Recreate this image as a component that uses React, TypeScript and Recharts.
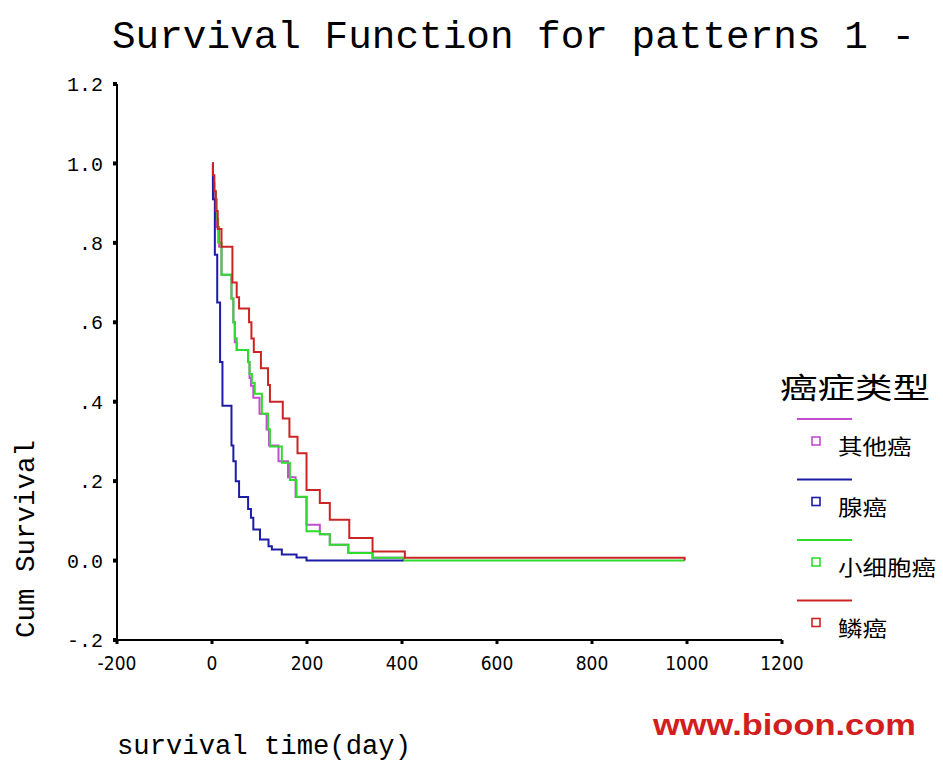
import React from "react";
import { LineChart, Line, XAxis, YAxis, Legend } from "recharts";

// ---- data ----
const seriesNames = ["其他癌", "腺癌", "小细胞癌", "鳞癌"];
const seriesColors = ["#c44cd0", "#1c1ca6", "#2edc2e", "#cc2424"];

const otherTimes = [0, 2, 5, 10, 15, 20, 41, 45, 48, 52, 76, 79, 82, 87, 100, 115, 120, 140, 160, 176, 199, 227, 248, 287, 338, 403];
const otherSurv = [1.0, 0.95, 0.91, 0.84, 0.79, 0.72, 0.66, 0.6, 0.55, 0.53, 0.5, 0.46, 0.44, 0.41, 0.37, 0.33, 0.29, 0.25, 0.21, 0.16, 0.09, 0.066, 0.04, 0.02, 0.007, 0.0];

const adenoTimes = [0, 2, 6, 11, 17, 22, 41, 45, 50, 57, 76, 82, 87, 101, 119, 126, 147, 178, 199, 403];
const adenoSurv = [1.0, 0.91, 0.77, 0.65, 0.5, 0.39, 0.29, 0.25, 0.2, 0.16, 0.13, 0.108, 0.078, 0.053, 0.036, 0.028, 0.015, 0.0075, 0.0, 0.0];

const smallTimes = [0, 2, 8, 13, 20, 41, 45, 48, 52, 76, 79, 84, 90, 105, 118, 122, 147, 164, 178, 199, 227, 248, 287, 338, 403, 995];
const smallSurv = [1.0, 0.93, 0.86, 0.8, 0.72, 0.66, 0.6, 0.56, 0.53, 0.5, 0.47, 0.447, 0.42, 0.37, 0.33, 0.287, 0.246, 0.203, 0.161, 0.074, 0.066, 0.04, 0.019, 0.007, 0.0, 0.0];

const squamTimes = [0, 2, 5, 8, 12, 20, 43, 52, 57, 78, 83, 88, 103, 118, 122, 149, 163, 180, 199, 227, 248, 289, 338, 406, 995];
const squamSurv = [1.0, 0.97, 0.93, 0.88, 0.835, 0.79, 0.7, 0.663, 0.635, 0.6, 0.559, 0.525, 0.484, 0.442, 0.4, 0.358, 0.312, 0.27, 0.178, 0.145, 0.103, 0.057, 0.023, 0.007, 0.0];

const xTicks = [-200, 0, 200, 400, 600, 800, 1000, 1200];
const yTicks = [-0.2, 0, 0.2, 0.4, 0.6, 0.8, 1.0, 1.2];
const yTickLabels = ["-.2", "0.0", ".2", ".4", ".6", ".8", "1.0", "1.2"];

const titleText = "Survival Function for patterns 1 -";
const xLabelText = "survival time(day)";
const yLabelText = "Cum Survival";
const legendTitle = "癌症类型";
const watermark = "www.bioon.com";

const build = (ts: number[], vs: number[]) => ts.map((t, i) => ({ t, s: vs[i] }));
const allSeries = [
  build(otherTimes, otherSurv),
  build(adenoTimes, adenoSurv),
  build(smallTimes, smallSurv),
  build(squamTimes, squamSurv),
];
const drawOrder = [0, 2, 1, 3];

const mono = "'Liberation Mono', 'DejaVu Sans Mono', monospace";
const cjk = "'Noto Sans CJK SC', sans-serif";

const renderLegend = () => (
  <svg width={173} height={300} style={{ display: "block" }}>
    <text x={10} y={43} fontFamily={cjk} fontSize={29} fill="#000" textLength={150} lengthAdjust="spacingAndGlyphs">
      {legendTitle}
    </text>
    {seriesNames.map((name, i) => {
      const ly = 63 + i * 60.5;
      return (
        <g key={name}>
          <line x1={27} x2={82} y1={ly} y2={ly} stroke={seriesColors[i]} strokeWidth={2} />
          <rect x={42} y={ly + 18} width={8} height={8} fill="none" stroke={seriesColors[i]} strokeWidth={1.6} />
          <text x={68} y={ly + 35} fontFamily={cjk} fontSize={21} fill="#000" textLength={name.length * 24.5} lengthAdjust="spacingAndGlyphs">
            {name}
          </text>
        </g>
      );
    })}
  </svg>
);

export default function App() {
  return (
    <div style={{ position: "absolute", left: 0, top: 0, width: 943, height: 763, background: "#fff" }}>
      <LineChart
        width={943}
        height={763}
        margin={{ top: 84, right: 161, bottom: 83, left: 57 }}
      >
        <XAxis
          type="number"
          dataKey="t"
          domain={[-200, 1200]}
          ticks={xTicks}
          allowDataOverflow
          height={40}
          axisLine={{ stroke: "#000", strokeWidth: 2 }}
          tickLine={{ stroke: "#000", strokeWidth: 3 }}
          tickSize={4}
          tickMargin={13}
          tick={{ fill: "#000", fontSize: 19, fontFamily: "'Liberation Sans Narrow', 'DejaVu Sans Condensed', sans-serif" }}
        />
        <YAxis
          type="number"
          dataKey="s"
          domain={[-0.2, 1.2]}
          ticks={yTicks}
          allowDataOverflow
          width={60}
          axisLine={{ stroke: "#000", strokeWidth: 2 }}
          tickLine={{ stroke: "#000", strokeWidth: 4 }}
          tickSize={4}
          tickMargin={10}
          tickFormatter={(v: number) => {
            const idx = yTicks.findIndex((y) => Math.abs(y - v) < 1e-6);
            return idx >= 0 ? yTickLabels[idx] : String(v);
          }}
          tick={{ fill: "#000", fontSize: 20, fontFamily: mono }}
        />
        {drawOrder.map((i) => (
          <Line
            key={seriesNames[i]}
            data={allSeries[i]}
            dataKey="s"
            name={seriesNames[i]}
            type="stepAfter"
            stroke={seriesColors[i]}
            strokeWidth={2}
            dot={false}
            activeDot={false}
            isAnimationActive={false}
          />
        ))}
        <Legend
          layout="vertical"
          align="center"
          verticalAlign="middle"
          content={renderLegend}
          wrapperStyle={{ position: "absolute", left: 770, top: 356, width: 173, height: 300 }}
        />
      </LineChart>
      <svg width={943} height={763} style={{ position: "absolute", left: 0, top: 0, pointerEvents: "none" }}>
        <text x={112} y={48} fontFamily={mono} fontSize={39} fill="#000" textLength={803} lengthAdjust="spacingAndGlyphs">
          {titleText}
        </text>
        <text x={117} y={754} fontFamily={mono} fontSize={27} fill="#000" textLength={294} lengthAdjust="spacingAndGlyphs">
          {xLabelText}
        </text>
        <text
          transform="translate(34, 638) rotate(-90)"
          x={0}
          y={0}
          fontFamily={mono}
          fontSize={27}
          fill="#000"
          textLength={198}
          lengthAdjust="spacingAndGlyphs"
        >
          {yLabelText}
        </text>
        <text x={653} y={735} fontFamily="'Liberation Sans', Arial, sans-serif" fontWeight="bold" fontSize={30} fill="#d21e1e" textLength={263} lengthAdjust="spacingAndGlyphs">
          {watermark}
        </text>
      </svg>
    </div>
  );
}
